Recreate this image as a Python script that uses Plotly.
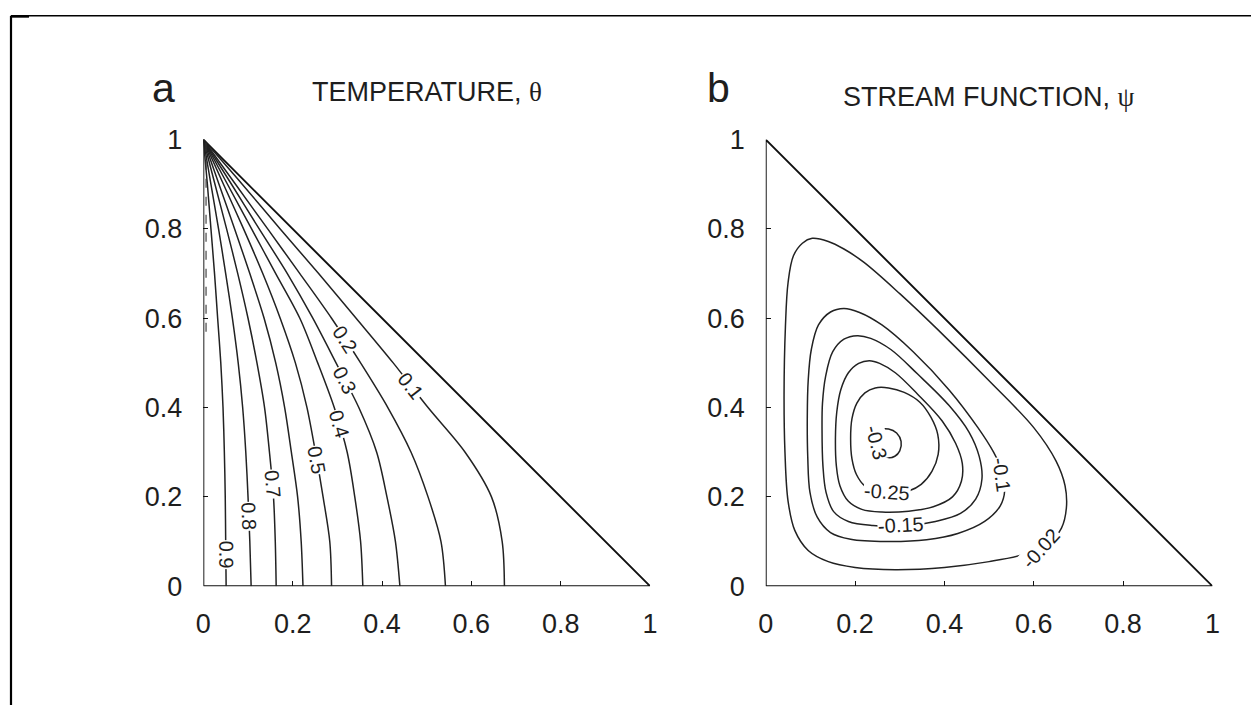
import numpy as np
import plotly.graph_objects as go

# The snapshot places the figure at about (7, 15) and shrinks it by (0.988, 0.956);
# layout positions below are given in snapshot pixels and mapped back to figure pixels.
OX, SX = 7.0, 0.988
OY, SY = 15.0, 0.956
W, H = 1259, 720

# ---------------- Panel a : temperature contours ----------------
# x position of each isotherm read at fixed heights y
theta_y = [1.0, 0.9, 0.8, 0.7, 0.6, 0.5, 0.4, 0.3, 0.2, 0.1, 0.0]
theta_x_01 = [0, 0.087, 0.172, 0.258, 0.342, 0.425, 0.503, 0.586, 0.645, 0.669, 0.674]
theta_x_02 = [0, 0.072, 0.144, 0.216, 0.287, 0.352, 0.413, 0.465, 0.503, 0.532, 0.542]
theta_x_03 = [0, 0.063, 0.125, 0.188, 0.245, 0.297, 0.348, 0.388, 0.411, 0.430, 0.440]
theta_x_04 = [0, 0.054, 0.108, 0.162, 0.216, 0.256, 0.293, 0.322, 0.339, 0.352, 0.357]
theta_x_05 = [0, 0.045, 0.090, 0.133, 0.172, 0.206, 0.232, 0.251, 0.268, 0.283, 0.287]
theta_x_06 = [0, 0.035, 0.070, 0.104, 0.136, 0.162, 0.182, 0.197, 0.211, 0.219, 0.223]
theta_x_07 = [0, 0.026, 0.052, 0.077, 0.100, 0.120, 0.137, 0.148, 0.157, 0.161, 0.163]
theta_x_08 = [0, 0.017, 0.034, 0.050, 0.065, 0.078, 0.088, 0.095, 0.100, 0.104, 0.107]
theta_x_09 = [0, 0.009, 0.017, 0.025, 0.032, 0.039, 0.044, 0.047, 0.049, 0.050, 0.051]
theta_levels = ["0.1", "0.2", "0.3", "0.4", "0.5", "0.6", "0.7", "0.8", "0.9"]
theta_lines = [theta_x_01, theta_x_02, theta_x_03, theta_x_04, theta_x_05,
               theta_x_06, theta_x_07, theta_x_08, theta_x_09]
# theta = 1 contour hugging the left wall
theta_wall_x = [0.006, 0.006]
theta_wall_y = [0.57, 1.0]

# labelled isotherms and the height of their label
theta_label_text = ["0.1", "0.2", "0.3", "0.4", "0.5", "0.7", "0.8", "0.9"]
theta_label_y = [0.449, 0.552, 0.462, 0.363, 0.283, 0.228, 0.157, 0.071]

# ---------------- Panel b : stream function contours ----------------
psi_002_x = [0.041, 0.043, 0.050, 0.065, 0.095, 0.140, 0.200, 0.290, 0.400, 0.500, 0.580,
             0.635, 0.662, 0.673, 0.670, 0.650, 0.600, 0.500, 0.400, 0.300, 0.220, 0.175,
             0.140, 0.104, 0.082, 0.062, 0.050, 0.044, 0.041]
psi_002_y = [0.430, 0.300, 0.190, 0.125, 0.080, 0.055, 0.042, 0.037, 0.042, 0.055, 0.072,
             0.098, 0.130, 0.175, 0.225, 0.280, 0.355, 0.460, 0.560, 0.655, 0.725, 0.755,
             0.772, 0.779, 0.768, 0.740, 0.680, 0.580, 0.430]

psi_010_x = [0.093, 0.094, 0.099, 0.115, 0.145, 0.190, 0.270, 0.360, 0.430, 0.490, 0.525,
             0.535, 0.528, 0.510, 0.475, 0.410, 0.330, 0.260, 0.210, 0.175, 0.145, 0.118,
             0.102, 0.095, 0.093]
psi_010_y = [0.380, 0.290, 0.210, 0.155, 0.120, 0.105, 0.100, 0.104, 0.118, 0.145, 0.180,
             0.215, 0.260, 0.300, 0.355, 0.440, 0.525, 0.585, 0.613, 0.622, 0.614, 0.585,
             0.530, 0.460, 0.380]

psi_015_x = [0.126, 0.128, 0.135, 0.152, 0.185, 0.240, 0.310, 0.380, 0.436, 0.470, 0.484,
             0.478, 0.455, 0.410, 0.340, 0.280, 0.235, 0.205, 0.175, 0.150, 0.134, 0.127, 0.126]
psi_015_y = [0.350, 0.270, 0.210, 0.167, 0.145, 0.136, 0.135, 0.145, 0.163, 0.195, 0.240,
             0.290, 0.345, 0.405, 0.475, 0.530, 0.555, 0.561, 0.553, 0.525, 0.470, 0.410, 0.350]

psi_020_x = [0.156, 0.158, 0.166, 0.185, 0.215, 0.260, 0.320, 0.375, 0.418, 0.438, 0.440,
             0.425, 0.395, 0.340, 0.290, 0.255, 0.232, 0.208, 0.185, 0.168, 0.159, 0.156]
psi_020_y = [0.330, 0.270, 0.225, 0.190, 0.172, 0.166, 0.168, 0.178, 0.200, 0.235, 0.275,
             0.320, 0.370, 0.430, 0.478, 0.499, 0.505, 0.499, 0.478, 0.440, 0.390, 0.330]

psi_025_x = [0.190, 0.193, 0.203, 0.222, 0.250, 0.285, 0.320, 0.348, 0.372, 0.386, 0.385,
             0.370, 0.345, 0.310, 0.275, 0.245, 0.222, 0.204, 0.193, 0.190]
psi_025_y = [0.330, 0.285, 0.250, 0.224, 0.210, 0.207, 0.213, 0.228, 0.257, 0.295, 0.340,
             0.378, 0.412, 0.434, 0.444, 0.444, 0.433, 0.410, 0.375, 0.330]

psi_030_x = [0.240, 0.255, 0.275, 0.293, 0.303, 0.300, 0.289, 0.274, 0.258, 0.246, 0.240]
psi_030_y = [0.330, 0.350, 0.352, 0.343, 0.324, 0.303, 0.291, 0.288, 0.295, 0.310, 0.330]

psi_loops = [(psi_002_x, psi_002_y), (psi_010_x, psi_010_y), (psi_015_x, psi_015_y),
             (psi_020_x, psi_020_y), (psi_025_x, psi_025_y), (psi_030_x, psi_030_y)]

psi_label_text = ["-0.02", "-0.1", "-0.15", "-0.25", "-0.3"]
psi_label_x = [0.617, 0.529, 0.303, 0.272, 0.247]
psi_label_y = [0.085, 0.250, 0.136, 0.210, 0.322]
psi_label_angle = [-48, 82, -3, 4, 75]

ticks = [0, 0.2, 0.4, 0.6, 0.8, 1]
tick_text = ["0", "0.2", "0.4", "0.6", "0.8", "1"]

# ---------------- layout geometry (snapshot pixels -> paper) ----------------
def px(p):
    return (p - OX) / SX / W

def py(p):
    return 1 - (p - OY) / SY / H

XA = [202.5, 649.5]
XB = [765.3, 1212.3]
YP = [584.8, 139.3]
dom_a = [px(XA[0]), px(XA[1])]
dom_b = [px(XB[0]), px(XB[1])]
dom_y = [py(YP[0]), py(YP[1])]
sx = XA[1] - XA[0]
sy = YP[0] - YP[1]

FONT = "Liberation Sans, Arial, sans-serif"
INK = "#1e1e1e"
LINE = "#222222"

fig = go.Figure()

tri_x = [0, 1, 0, 0]
tri_y = [0, 0, 1, 0]
for xa, ya in (("x", "y"), ("x2", "y2")):
    fig.add_trace(go.Scatter(x=tri_x, y=tri_y, mode="lines", xaxis=xa, yaxis=ya,
                             line=dict(color="#111", width=1.9), hoverinfo="skip",
                             showlegend=False))

for xs in theta_lines:
    fig.add_trace(go.Scatter(x=xs, y=theta_y, mode="lines", xaxis="x", yaxis="y",
                             line=dict(color=LINE, width=1.5, shape="spline", smoothing=0.9),
                             hoverinfo="skip", showlegend=False))
fig.add_trace(go.Scatter(x=theta_wall_x, y=theta_wall_y, mode="lines", xaxis="x", yaxis="y",
                         line=dict(color="#333", width=1.1, dash="dash"),
                         hoverinfo="skip", showlegend=False))

for lx, ly in psi_loops:
    fig.add_trace(go.Scatter(x=lx, y=ly, mode="lines", xaxis="x2", yaxis="y2",
                             line=dict(color=LINE, width=1.5, shape="spline", smoothing=1.0),
                             hoverinfo="skip", showlegend=False))

annotations = []
# contour labels, panel a (placed on their isotherm, rotated along it)
for txt, ly in zip(theta_label_text, theta_label_y):
    xs = np.array(theta_lines[theta_levels.index(txt)])[::-1]
    ys = np.array(theta_y)[::-1]
    lx = float(np.interp(ly, ys, xs))
    h = 0.03
    dx = (np.interp(ly - h, ys, xs) - np.interp(ly + h, ys, xs)) * sx
    dy = 2 * h * sy
    ang = float(np.degrees(np.arctan2(dy, dx)))
    annotations.append(dict(x=lx, y=ly, xref="x", yref="y", text=txt, showarrow=False,
                            textangle=ang, bgcolor="white", borderpad=0,
                            font=dict(family=FONT, size=20, color=INK)))
for txt, lx, ly, ang in zip(psi_label_text, psi_label_x, psi_label_y, psi_label_angle):
    annotations.append(dict(x=lx, y=ly, xref="x2", yref="y2", text=txt, showarrow=False,
                            textangle=ang, bgcolor="white", borderpad=0,
                            font=dict(family=FONT, size=20, color=INK)))

# panel letters and titles
for txt, x0, y0 in (("a", 163, 88), ("b", 718, 88)):
    annotations.append(dict(x=px(x0), y=py(y0), xref="paper", yref="paper", text=txt,
                            showarrow=False, xanchor="center", yanchor="middle",
                            font=dict(family=FONT, size=41, color=INK)))
for txt, x0, y0 in (("TEMPERATURE, <span style=\"font-family:Liberation Serif\">θ</span>", 426, 92),
                    ("STREAM FUNCTION, <span style=\"font-family:Liberation Serif\">ψ</span>", 989, 97)):
    annotations.append(dict(x=px(x0), y=py(y0), xref="paper", yref="paper", text=txt,
                            showarrow=False, xanchor="center", yanchor="middle",
                            font=dict(family=FONT, size=27, color=INK)))

axis_common = dict(range=[0, 1], tickmode="array", tickvals=ticks, ticktext=tick_text,
                   ticks="inside", ticklen=5, tickwidth=1.4, tickcolor="#111",
                   showgrid=False, zeroline=False, showline=False, fixedrange=True,
                   tickfont=dict(family=FONT, size=27, color=INK))
xaxis_common = dict(axis_common, ticklabelstandoff=19)
yaxis_common = dict(axis_common, ticklabelstandoff=20)

fig.update_layout(
    width=W, height=H, margin=dict(l=0, r=0, t=0, b=0),
    paper_bgcolor="white", plot_bgcolor="white", showlegend=False,
    xaxis=dict(domain=dom_a, anchor="y", **xaxis_common),
    yaxis=dict(domain=dom_y, anchor="x", **yaxis_common),
    xaxis2=dict(domain=dom_b, anchor="y2", **xaxis_common),
    yaxis2=dict(domain=dom_y, anchor="x2", **yaxis_common),
    annotations=annotations,
    shapes=[
        dict(type="line", xref="paper", yref="paper", x0=px(10), x1=1, y0=0.999, y1=0.999,
             line=dict(color="#000", width=1.6)),
        dict(type="line", xref="paper", yref="paper", x0=px(10), x1=px(10), y0=0.999, y1=0,
             line=dict(color="#000", width=2.2)),
        dict(type="line", xref="paper", yref="paper", x0=px(10), x1=px(28), y0=0.998, y1=0.998,
             line=dict(color="#000", width=2.6)),
    ],
)

fig.write_html("out.html")
